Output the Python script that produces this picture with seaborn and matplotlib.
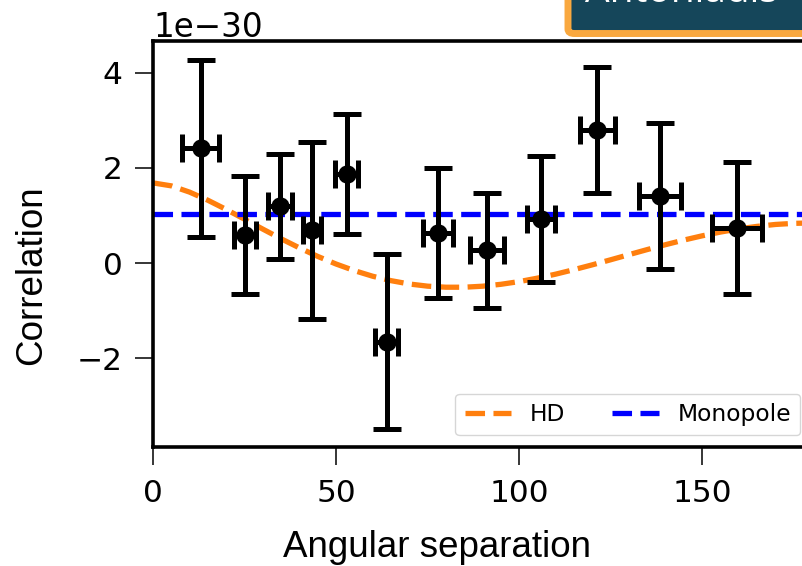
import numpy as np
import pandas as pd
import matplotlib
matplotlib.use("Agg")
import matplotlib.pyplot as plt
from matplotlib.patches import FancyBboxPatch
import seaborn as sns

# ---- data (correlation values in units of 1e-30) ----
ang_sep = [13.0, 25.1, 34.7, 43.5, 52.9, 63.8, 77.9, 91.3, 106.0, 121.3, 138.5, 159.6]
corr = [2.41, 0.59, 1.19, 0.69, 1.87, -1.66, 0.63, 0.27, 0.93, 2.80, 1.41, 0.74]
corr_err = [1.87, 1.24, 1.11, 1.86, 1.27, 1.84, 1.37, 1.21, 1.33, 1.33, 1.54, 1.39]
ang_err = [5.1, 2.9, 3.3, 2.5, 3.2, 3.2, 4.1, 4.6, 3.8, 4.8, 5.7, 6.8]

hd_angle = [0, 5, 10, 15, 20, 25, 30, 35, 40, 45, 50, 55, 60, 65, 70, 75, 80, 85, 90,
            95, 100, 105, 110, 115, 120, 125, 130, 135, 140, 145, 150, 155, 160, 165,
            170, 175, 180]
hd_corr = [1.685, 1.623, 1.491, 1.320, 1.126, 0.921, 0.713, 0.510, 0.318, 0.139, -0.021,
           -0.160, -0.278, -0.371, -0.441, -0.487, -0.509, -0.509, -0.488, -0.448, -0.391,
           -0.318, -0.234, -0.139, -0.038, 0.068, 0.176, 0.283, 0.386, 0.483, 0.572,
           0.651, 0.718, 0.771, 0.811, 0.834, 0.843]
mono_angle = [0, 180]
mono_corr = [1.03, 1.03]
scale = 1e-30

sns.set_style("ticks")
plt.rcParams["font.family"] = ["DejaVu Sans"]
plt.rcParams.update({
    "axes.linewidth": 2.5,
    "axes.edgecolor": "black",
    "text.color": "black",
    "axes.labelcolor": "black",
    "xtick.major.size": 13, "ytick.major.size": 13,
    "xtick.major.width": 1.1, "ytick.major.width": 1.1,
    "xtick.major.pad": 10, "ytick.major.pad": 9,
    "xtick.labelsize": 22.5, "ytick.labelsize": 22.5,
    "xtick.color": "black", "ytick.color": "black",
    "legend.labelcolor": "black",
})

fig = plt.figure(figsize=(8.03, 5.66), dpi=100)
ax = fig.add_axes([153/803, 119/566, 659/803, 406/566])

hd_df = pd.DataFrame({"x": hd_angle, "y": np.array(hd_corr) * scale})
mono_df = pd.DataFrame({"x": mono_angle, "y": np.array(mono_corr) * scale})
sns.lineplot(data=hd_df, x="x", y="y", ax=ax, color="#ff7f0e", lw=3.8,
             linestyle="--", label="HD", zorder=2)
sns.lineplot(data=mono_df, x="x", y="y", ax=ax, color="blue", lw=3.8,
             linestyle="--", label="Monopole", zorder=2)

ax.errorbar(ang_sep, np.array(corr) * scale, yerr=np.array(corr_err) * scale,
            xerr=ang_err, fmt="none", ecolor="black", elinewidth=3.6,
            capsize=10.3, capthick=3.6, zorder=3)
sns.scatterplot(x=ang_sep, y=np.array(corr) * scale, ax=ax, color="black",
                s=175, edgecolor="black", linewidth=0, zorder=4)

ax.set_xlim(0, 180)
ax.set_ylim(-3.87 * scale, 4.67 * scale)
ax.set_xticks([0, 50, 100, 150])
ax.set_yticks(np.array([-2, 0, 2, 4]) * scale)
for s in ax.spines.values():
    s.set_visible(True)
    s.set_linewidth(2.6)
ax.yaxis.get_offset_text().set_fontsize(23.5)

ax.set_xlabel("Angular separation", family="Liberation Sans", fontsize=26.5)
ax.set_ylabel("Correlation", family="Liberation Sans", fontsize=26.5)
ax.xaxis.set_label_coords(0.4317, -0.205)
ax.yaxis.set_label_coords(-0.158, 0.4224)

ax.legend(loc="lower right", ncol=2, fontsize=16.8)

box = FancyBboxPatch((568/803, 1 - 33.5/566), 0.4, 0.2,
                     boxstyle="round,pad=0,rounding_size=0.008",
                     transform=fig.transFigure, fc="#15465a", ec="#f9a83f",
                     lw=5, clip_on=False, zorder=10)
fig.patches.append(box)
fig.text(585/803, 1 - 2/566, "Antoniadis + 2023", color="white", fontsize=28,
         family="Open Sans", va="baseline", ha="left", zorder=11)

fig.savefig("out.png", dpi=100)
